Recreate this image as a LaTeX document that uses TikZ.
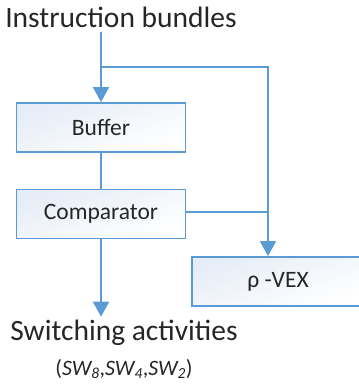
\documentclass[tikz,border=0pt]{standalone}
\usepackage{fontspec}
\setmainfont{Carlito}
\usetikzlibrary{arrows.meta}
\definecolor{lineblue}{HTML}{5B9BD5}
\definecolor{boxtop}{HTML}{E6EDF7}
\begin{document}
\begin{tikzpicture}[x=1pt,y=-1pt,
	block/.style={draw=lineblue, line width=1.8pt, minimum width=169pt, minimum height=49pt,
		shading=axis, top color=boxtop, bottom color=white, shading angle=20,
		font=\fontsize{23.5}{27}\selectfont, text=black!85},
	wire/.style={draw=lineblue, line width=1.8pt},
	arrow/.style={wire, -{Triangle[width=16pt,length=15pt]}},
	label/.style={font=\fontsize{29.5}{34}\selectfont, text=black!85}]
	\useasboundingbox (0,0) rectangle (358,390);
	\node[label] (title) at (121,17) {Instruction bundles};
	\node[block] (buffer) at (101,127.5) {Buffer};
	\node[block] (comp) at (101,214) {Comparator};
	\node[block, minimum width=172pt] (vex) at (278,281.5) {ρ -VEX};
	\node[label] (out) at (124,333) {Switching activities};
	\node[font=\fontsize{22}{25}\selectfont, text=black!85] (sw) at (124,369)
		{(\textit{SW\textsubscript{8}},\textit{SW\textsubscript{4}},\textit{SW\textsubscript{2}})};
	\coordinate (split) at (101,67);
	\coordinate (join) at (268,212);
	\draw[arrow] (101,32) -- (buffer);
	\draw[wire] (split) -| (join);
	\draw[arrow] (join) -- (join |- vex.north);
	\draw[wire] (buffer) -- (comp);
	\draw[wire] (comp.east |- join) -- (join);
	\draw[arrow] (comp) -- (comp.south |- out.north);
\end{tikzpicture}
\end{document}
